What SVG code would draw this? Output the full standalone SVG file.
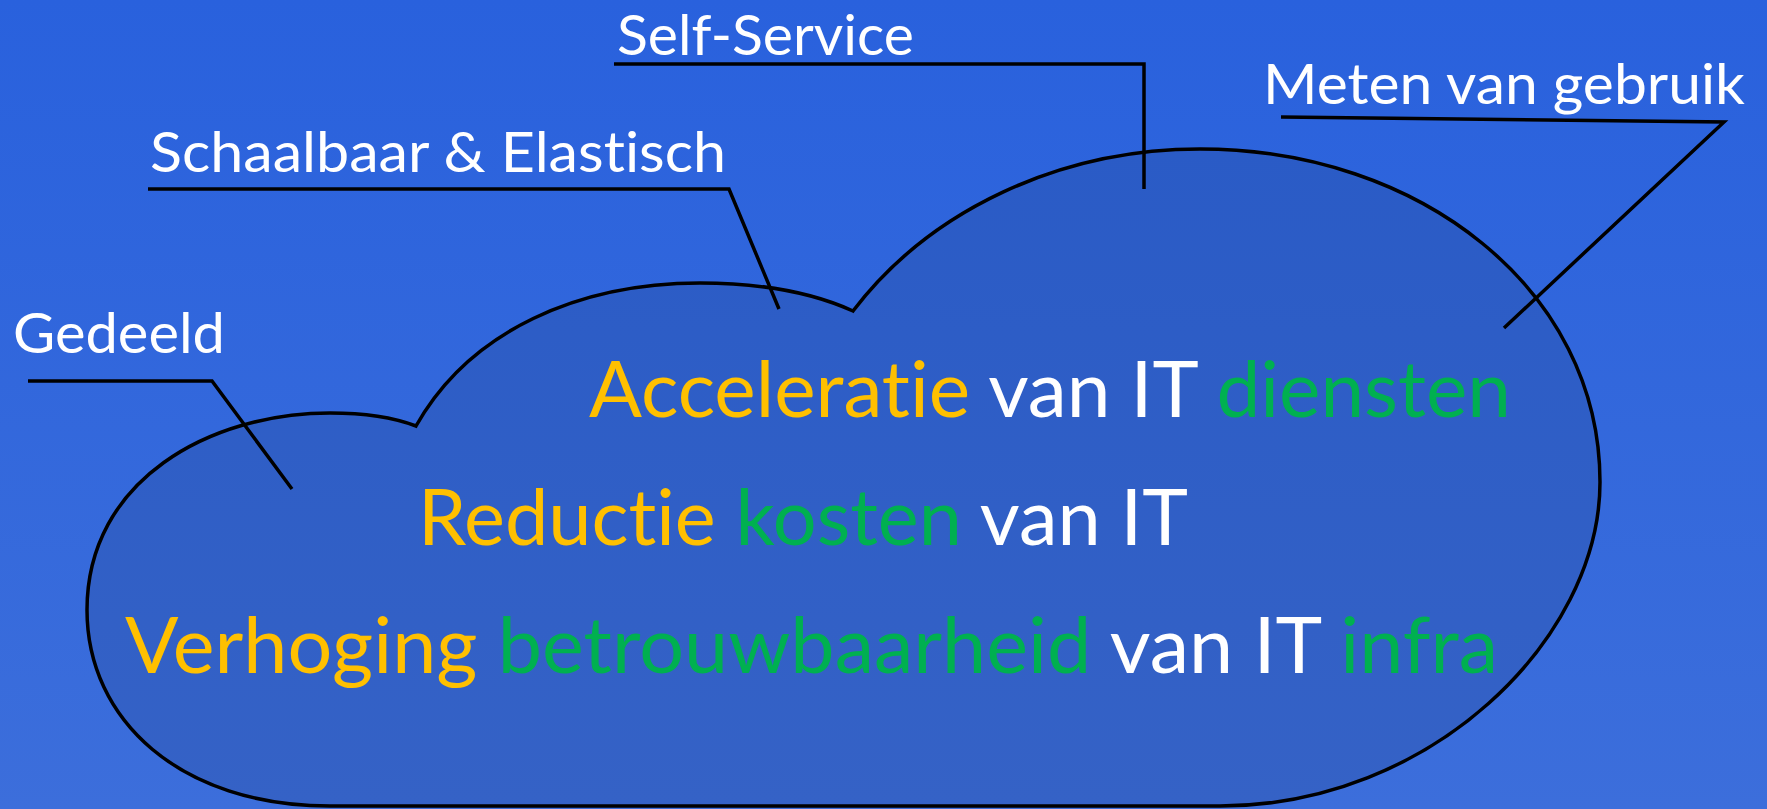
<svg xmlns="http://www.w3.org/2000/svg" width="1767" height="809" viewBox="0 0 1767 809">
  <defs>
    <linearGradient id="bg" x1="0" y1="0" x2="0" y2="1">
      <stop offset="0" stop-color="#2961DD"/>
      <stop offset="1" stop-color="#3C6EDB"/>
    </linearGradient>
    <linearGradient id="cloudFill" x1="0" y1="0" x2="0" y2="1">
      <stop offset="0" stop-color="#2A5BC6"/>
      <stop offset="1" stop-color="#3562C6"/>
    </linearGradient>
    <style>
      text { font-variant-ligatures: none; font-feature-settings: "liga" 0, "clig" 0, "dlig" 0; }
      .label { font-family: Lato, "Liberation Sans", sans-serif; font-size: 56px; fill: #FFFFFF; }
      .main { font-family: Lato, "Liberation Sans", sans-serif; font-size: 77px; fill: #FFFFFF; }
      .y { fill: #FFC000; }
      .g { fill: #00B050; }
      .w { fill: #FFFFFF; }
      .conn { fill: none; stroke: #000000; stroke-width: 3.5; stroke-linejoin: miter; }
    </style>
  </defs>

  <rect x="0" y="0" width="1767" height="809" fill="url(#bg)"/>

  <g id="cloud">
    <path d="M416,426 C470,330 580,283 700,283 C770,283 820,296 853,311 C930,210 1060,149 1200,149 C1420,149 1600,290 1600,482 C1600,640 1430,806 1220,806 L330,806 C180,806 87,720 87,610 C87,480 210,413 330,413 C365,413 395,418 416,426 Z" fill="url(#cloudFill)" stroke="#000000" stroke-width="3.5"/>
  </g>

  <g id="connectors">
    <polyline class="conn" points="28,381 212,381 292,489"/>
    <polyline class="conn" points="148,189 729,189 779,309"/>
    <polyline class="conn" points="614,64 1144,64 1144,189"/>
    <polyline class="conn" points="1281,117 1724,122 1504,328"/>
  </g>

  <g id="label-gedeeld">
    <text class="label" x="13" y="353" textLength="212" lengthAdjust="spacingAndGlyphs">Gedeeld</text>
  </g>
  <g id="label-schaalbaar">
    <text class="label" x="150" y="172" textLength="576" lengthAdjust="spacingAndGlyphs">Schaalbaar &amp; Elastisch</text>
  </g>
  <g id="label-selfservice">
    <text class="label" x="617" y="55" textLength="297" lengthAdjust="spacingAndGlyphs">Self-Service</text>
  </g>
  <g id="label-meten">
    <text class="label" x="1263" y="104" textLength="482" lengthAdjust="spacingAndGlyphs">Meten van gebruik</text>
  </g>

  <g id="text-acceleratie">
    <text class="main" x="589" y="417" textLength="922" lengthAdjust="spacingAndGlyphs"><tspan class="y">Acceleratie</tspan> <tspan class="w">van IT</tspan> <tspan class="g">diensten</tspan></text>
  </g>
  <g id="text-reductie">
    <text class="main" x="418" y="545" textLength="770" lengthAdjust="spacingAndGlyphs"><tspan class="y">Reductie</tspan> <tspan class="g">kosten</tspan> <tspan class="w">van IT</tspan></text>
  </g>
  <g id="text-verhoging">
    <text class="main" x="125" y="673" textLength="1373" lengthAdjust="spacingAndGlyphs"><tspan class="y">Verhoging</tspan> <tspan class="g">betrouwbaarheid</tspan> <tspan class="w">van IT</tspan> <tspan class="g">infra</tspan></text>
  </g>
</svg>
